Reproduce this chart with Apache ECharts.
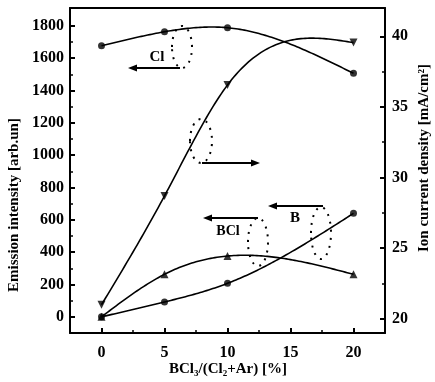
<!DOCTYPE html>
<html><head><meta charset="utf-8">
<script src="https://cdn.jsdelivr.net/npm/echarts@6/dist/echarts.min.js"></script>
<style>html,body{margin:0;padding:0;background:#fff}#c{width:435px;height:382px}</style>
</head><body><div id="c"></div>
<script>
// ---- data ----
const xValues = [0, 5, 10, 20];
const clEmission = [1676, 1763, 1788, 1506];     // Cl emission (left axis)
const ionCurrent = [21.0, 28.7, 36.55, 39.55];   // ion current density (right axis)
const bclEmission = [0, 263, 376, 263];          // BCl emission (left axis)
const bEmission = [0, 92, 207, 640];             // B emission (left axis)
const xTickLabels = [0, 5, 10, 15, 20];
const xMinorTicks = [2.5, 7.5, 12.5, 17.5];
const leftTickLabels = [0, 200, 400, 600, 800, 1000, 1200, 1400, 1600, 1800];
const leftMinorTicks = [100, 300, 500, 700, 900, 1100, 1300, 1500, 1700];
const rightTickLabels = [20, 25, 30, 35, 40];
const rightMinorTicks = [22.5, 27.5, 32.5, 37.5];
const xTitle = 'BCl\u2083/(Cl\u2082+Ar) [%]';
const leftTitle = 'Emission intensity [arb.un]';
const rightTitle = 'Ion current density [mA/cm\u00b2]';

const FONT = "'Liberation Serif', 'DejaVu Serif', serif";
const pair = (xs, ys) => xs.map((x, i) => [x, ys[i]]);

// natural cubic spline through the data (how the original plotting tool joined the points)
function naturalSpline(xs, ys) {
  const n = xs.length, h = [], al = [], l = [1], mu = [0], z = [0], c = new Array(n).fill(0), b = [], d = [];
  for (let i = 0; i < n - 1; i++) h[i] = xs[i + 1] - xs[i];
  for (let i = 1; i < n - 1; i++) al[i] = 3 / h[i] * (ys[i + 1] - ys[i]) - 3 / h[i - 1] * (ys[i] - ys[i - 1]);
  for (let i = 1; i < n - 1; i++) {
    l[i] = 2 * (xs[i + 1] - xs[i - 1]) - h[i - 1] * mu[i - 1];
    mu[i] = h[i] / l[i];
    z[i] = (al[i] - h[i - 1] * z[i - 1]) / l[i];
  }
  for (let j = n - 2; j >= 0; j--) {
    c[j] = z[j] - mu[j] * c[j + 1];
    b[j] = (ys[j + 1] - ys[j]) / h[j] - h[j] * (c[j + 1] + 2 * c[j]) / 3;
    d[j] = (c[j + 1] - c[j]) / (3 * h[j]);
  }
  return function (x) {
    let j = 0;
    while (j < n - 2 && x > xs[j + 1]) j++;
    const t = x - xs[j];
    return ys[j] + b[j] * t + c[j] * t * t + d[j] * t * t * t;
  };
}

const axisLineStyle = { show: true, onZero: false, lineStyle: { color: '#000', width: 2 } };
const labelStyle = { color: '#000', fontFamily: FONT, fontWeight: 'bold', fontSize: 16, formatter: v => String(v) };

function xAx(extra) {
  return Object.assign({ type: 'value', min: -2.5, max: 22.5, splitLine: { show: false } }, extra);
}
function yAx(extra) {
  return Object.assign({ type: 'value', splitLine: { show: false } }, extra);
}

function arrow(x1, x2, y) {
  const dir = x2 < x1 ? 1 : -1;
  return [
    { type: 'line', shape: { x1: x1, y1: y, x2: x2 + dir * 6, y2: y }, style: { stroke: '#000', lineWidth: 2 } },
    { type: 'polygon', shape: { points: [[x2, y], [x2 + dir * 9, y - 3.5], [x2 + dir * 9, y + 3.5]] }, style: { fill: '#000' } }
  ];
}
function dotEllipse(cx, cy, rx, ry) {
  return { type: 'ellipse', shape: { cx: cx, cy: cy, rx: rx, ry: ry },
    style: { fill: null, stroke: '#000', lineWidth: 2, lineDash: [2, 6] } };
}
function txt(x, y, s, rot, size) {
  return { type: 'text', x: x, y: y, rotation: rot || 0,
    style: { text: s, fill: '#000', font: 'bold ' + (size || 15) + 'px ' + FONT, align: 'center', verticalAlign: 'middle' } };
}

const chart = echarts.init(document.getElementById('c'), null, { renderer: 'canvas' });

function curveSeries(name, ys, yIdx) {
  const f = naturalSpline(xValues, ys);
  return {
    name: name + ' curve', type: 'custom', coordinateSystem: 'cartesian2d', xAxisIndex: 0, yAxisIndex: yIdx,
    data: pair(xValues, ys), clip: true, silent: true,
    renderItem: function (params, api) {
      if (params.dataIndex !== 0) return null;
      const x0 = xValues[0], x1 = xValues[xValues.length - 1], pts = [];
      for (let k = 0; k <= 120; k++) {
        const x = x0 + (x1 - x0) * k / 120;
        pts.push(api.coord([x, f(x)]));
      }
      return { type: 'polyline', shape: { points: pts }, style: { stroke: '#000', lineWidth: 1.6, fill: null } };
    }
  };
}
function markerSeries(name, ys, yIdx, symbol, rot) {
  return {
    name: name, type: 'scatter', xAxisIndex: 0, yAxisIndex: yIdx, data: pair(xValues, ys),
    symbol: symbol, symbolSize: symbol === 'circle' ? 7 : 8, symbolRotate: rot || 0,
    itemStyle: { color: '#000' }, z: 3
  };
}

chart.setOption({
  animation: false,
  backgroundColor: '#fff',
  grid: { left: 70, right: 50, top: 8, bottom: 49, containLabel: false },
  xAxis: [
    xAx({ position: 'bottom', axisLine: axisLineStyle,
      axisTick: { show: true, inside: true, length: 5, customValues: xTickLabels, lineStyle: { color: '#000', width: 2 } },
      axisLabel: Object.assign({ customValues: xTickLabels, margin: 12 }, labelStyle) }),
    xAx({ position: 'bottom', axisLine: { show: false, onZero: false },
      axisTick: { show: true, inside: true, length: 3, customValues: xMinorTicks, lineStyle: { color: '#000', width: 1.5 } },
      axisLabel: { show: false } }),
    xAx({ position: 'top', axisLine: axisLineStyle, axisTick: { show: false }, axisLabel: { show: false } })
  ],
  yAxis: [
    yAx({ position: 'left', min: -100, max: 1910, axisLine: axisLineStyle,
      axisTick: { show: true, inside: true, length: 5, customValues: leftTickLabels, lineStyle: { color: '#000', width: 2 } },
      axisLabel: Object.assign({ customValues: leftTickLabels, margin: 6 }, labelStyle) }),
    yAx({ position: 'right', min: 19, max: 42, axisLine: axisLineStyle,
      axisTick: { show: true, inside: true, length: 5, customValues: rightTickLabels, lineStyle: { color: '#000', width: 2 } },
      axisLabel: Object.assign({ customValues: rightTickLabels, margin: 7 }, labelStyle) }),
    yAx({ position: 'left', min: -100, max: 1910, axisLine: { show: false, onZero: false },
      axisTick: { show: true, inside: true, length: 3, customValues: leftMinorTicks, lineStyle: { color: '#000', width: 1.5 } },
      axisLabel: { show: false } }),
    yAx({ position: 'right', min: 19, max: 42, axisLine: { show: false, onZero: false },
      axisTick: { show: true, inside: true, length: 3, customValues: rightMinorTicks, lineStyle: { color: '#000', width: 1.5 } },
      axisLabel: { show: false } })
  ],
  series: [
    curveSeries('Cl', clEmission, 0),
    curveSeries('Ion current', ionCurrent, 1),
    curveSeries('BCl', bclEmission, 0),
    curveSeries('B', bEmission, 0),
    markerSeries('Cl', clEmission, 0, 'circle'),
    markerSeries('Ion current', ionCurrent, 1, 'triangle', 180),
    markerSeries('BCl', bclEmission, 0, 'triangle'),
    markerSeries('B', bEmission, 0, 'circle')
  ],
  graphic: [
    txt(228, 369, xTitle, 0, 15),
    txt(14, 205, leftTitle, Math.PI / 2, 15),
    txt(424, 158, rightTitle, Math.PI / 2, 15),
    txt(157, 57, 'Cl', 0, 15),
    txt(228, 231, 'BCl', 0, 14),
    txt(295, 218, 'B', 0, 15),
    dotEllipse(182, 47, 10, 21),
    dotEllipse(201, 141, 11, 22),
    dotEllipse(258, 242, 10, 24),
    dotEllipse(321, 233, 10, 26)
  ].concat(arrow(180, 128, 68), arrow(202, 260, 163), arrow(258, 203, 218), arrow(323, 268, 206))
});
</script></body></html>
